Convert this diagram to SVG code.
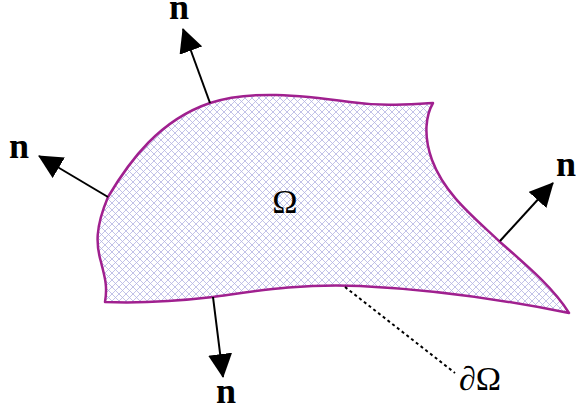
<svg xmlns="http://www.w3.org/2000/svg" width="576" height="414" viewBox="0 0 576 414">
  <style>
    .lbl { font-family: "Liberation Serif", "DejaVu Serif", serif; fill: #000; text-anchor: middle; }
    .n { font-size: 36px; font-weight: bold; }
    .sym { font-size: 34px; }
    .arrow { stroke: #000; stroke-width: 2; fill: none; marker-end: url(#head); }
  </style>
  <defs>
    <pattern id="hatch" patternUnits="userSpaceOnUse" width="7" height="7">
      <rect width="7" height="7" fill="#fff"/>
      <path d="M0,0 L7,7 M7,0 L0,7 M-1,6 L1,8 M6,-1 L8,1 M-1,1 L1,-1 M6,8 L8,6" stroke="#b2b2e2" stroke-width="0.8"/>
    </pattern>
    <marker id="head" markerUnits="userSpaceOnUse" markerWidth="24" markerHeight="24" refX="23" refY="12" orient="auto" viewBox="0 0 24 24">
      <path d="M0,0 L24,12 L0,24 Z" fill="#000"/>
    </marker>
  </defs>

  <g id="domain">
    <path d="M105,302 C108,285 104,275 101,262 C96,245 95,228 108,197 C130,160 160,120 210,103 C250,90 300,95 350,102 C385,107 410,104 433,103 C426,115 423,135 432,160 C445,195 475,218 500,242 C530,268 555,290 569,313 C520,303 440,290 360,286 C300,283 250,292 213,297 C170,302 130,303 105,302 Z" fill="url(#hatch)" stroke="#a0208f" stroke-width="2.5" stroke-linejoin="round"/>
    <text class="lbl sym" x="285" y="213">Ω</text>
  </g>

  <g id="connectors">
    <line class="arrow" x1="210" y1="103" x2="183" y2="29"/>
    <line class="arrow" x1="108" y1="197" x2="39" y2="156"/>
    <line class="arrow" x1="500" y1="241" x2="553" y2="183"/>
    <line class="arrow" x1="213" y1="297" x2="223" y2="377"/>
    <line x1="345" y1="287" x2="455" y2="373" stroke="#000" stroke-width="2" stroke-dasharray="3,3"/>
  </g>

  <g id="n-top"><text class="lbl n" x="179" y="19">n</text></g>
  <g id="n-left"><text class="lbl n" x="19" y="158">n</text></g>
  <g id="n-right"><text class="lbl n" x="566" y="176">n</text></g>
  <g id="n-bottom"><text class="lbl n" x="226" y="403">n</text></g>
  <g id="boundary-label"><text class="lbl sym" x="480" y="390">∂Ω</text></g>
</svg>
